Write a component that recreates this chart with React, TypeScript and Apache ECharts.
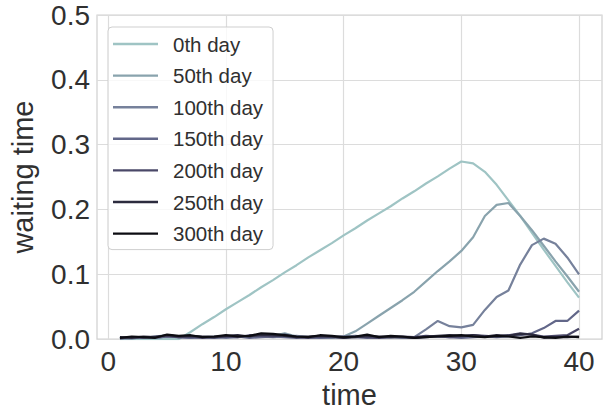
import React, { useEffect, useRef } from "react";
import * as echarts from "echarts";

const times = Array.from({ length: 40 }, (_, i) => i + 1);
const seriesNames = ["0th day", "50th day", "100th day", "150th day", "200th day", "250th day", "300th day"];
const seriesColors = ["#9fc4c4", "#89a3ad", "#76819b", "#626789", "#4a4868", "#2c2b3e", "#0c0c12"];

const day0 = [0, 0, 0, 0, 0, 0, 0.011, 0.023, 0.034, 0.046, 0.057, 0.068, 0.080, 0.091, 0.103, 0.114, 0.126, 0.137, 0.148, 0.160, 0.171, 0.183, 0.194, 0.205, 0.217, 0.228, 0.240, 0.251, 0.263, 0.274, 0.271, 0.258, 0.238, 0.214, 0.190, 0.164, 0.138, 0.113, 0.088, 0.064];
const day50 = [0.002, 0.003, 0.002, 0.004, 0.006, 0.003, 0.004, 0.003, 0.002, 0.004, 0.005, 0.003, 0.006, 0.005, 0.009, 0.004, 0.003, 0.002, 0.002, 0.004, 0.012, 0.024, 0.036, 0.048, 0.060, 0.073, 0.089, 0.105, 0.120, 0.136, 0.157, 0.190, 0.207, 0.210, 0.190, 0.168, 0.144, 0.120, 0.097, 0.073];
const day100 = [0.001, 0.002, 0.003, 0.002, 0.004, 0.003, 0.002, 0.003, 0.004, 0.002, 0.003, 0.005, 0.004, 0.003, 0.004, 0.005, 0.003, 0.002, 0.003, 0.004, 0.005, 0.003, 0.002, 0.003, 0.002, 0.003, 0.015, 0.028, 0.020, 0.018, 0.022, 0.045, 0.065, 0.075, 0.115, 0.145, 0.155, 0.147, 0.126, 0.100];
const day150 = [0.002, 0.001, 0.003, 0.002, 0.004, 0.003, 0.002, 0.003, 0.002, 0.003, 0.004, 0.002, 0.003, 0.004, 0.003, 0.002, 0.003, 0.002, 0.003, 0.004, 0.003, 0.002, 0.003, 0.004, 0.003, 0.002, 0.003, 0.004, 0.003, 0.002, 0.003, 0.004, 0.003, 0.004, 0.006, 0.009, 0.017, 0.028, 0.028, 0.044];
const day200 = [0.001, 0.003, 0.002, 0.004, 0.005, 0.003, 0.004, 0.002, 0.003, 0.004, 0.003, 0.006, 0.005, 0.004, 0.007, 0.003, 0.002, 0.004, 0.003, 0.002, 0.004, 0.003, 0.002, 0.003, 0.004, 0.003, 0.005, 0.004, 0.003, 0.004, 0.006, 0.005, 0.004, 0.006, 0.009, 0.007, 0.004, 0.005, 0.006, 0.016];
const day250 = [0.003, 0.002, 0.004, 0.003, 0.006, 0.004, 0.005, 0.004, 0.003, 0.005, 0.006, 0.004, 0.007, 0.006, 0.005, 0.003, 0.004, 0.005, 0.004, 0.002, 0.003, 0.005, 0.004, 0.003, 0.003, 0.002, 0.004, 0.005, 0.006, 0.005, 0.006, 0.004, 0.006, 0.005, 0.008, 0.007, 0.002, 0.003, 0.003, 0.004];
const day300 = [0.002, 0.004, 0.003, 0.002, 0.007, 0.005, 0.006, 0.003, 0.004, 0.006, 0.004, 0.005, 0.009, 0.008, 0.006, 0.004, 0.003, 0.006, 0.005, 0.003, 0.004, 0.007, 0.003, 0.005, 0.004, 0.002, 0.003, 0.004, 0.005, 0.006, 0.004, 0.003, 0.005, 0.004, 0.002, 0.004, 0.003, 0.002, 0.004, 0.003];
const allSeries = [day0, day50, day100, day150, day200, day250, day300];

const xTicks = [0, 10, 20, 30, 40];
const FONT = "Liberation Sans";

export default function App() {
  const ref = useRef<HTMLDivElement>(null);
  useEffect(() => {
    if (!ref.current) return;
    const chart = echarts.init(ref.current, null, { renderer: "svg" });
    chart.setOption({
      animation: false,
      backgroundColor: "#ffffff",
      grid: {
        left: 97,
        top: 15,
        width: 505,
        height: 328,
        show: true,
        borderColor: "#cfcfcf",
        borderWidth: 1.2,
        backgroundColor: "transparent",
      },
      legend: {
        orient: "vertical",
        left: 108,
        top: 27,
        padding: [6, 10, 5, 5],
        icon: "rect",
        itemWidth: 45,
        itemHeight: 2.4,
        itemGap: 9.6,
        borderColor: "#cfcfcf",
        borderWidth: 1,
        borderRadius: 4,
        backgroundColor: "rgba(255,255,255,0.8)",
        textStyle: {
          fontFamily: FONT,
          fontSize: 20.5,
          lineHeight: 22,
          color: "#303030",
          padding: [0, 0, 0, 10],
        },
        data: seriesNames,
      },
      xAxis: {
        type: "value",
        min: -0.95,
        max: 41.95,
        name: "time",
        nameLocation: "middle",
        nameGap: 40,
        nameTextStyle: { fontFamily: FONT, fontSize: 29, color: "#303030" },
        axisLine: { show: false },
        axisTick: { show: false, customValues: xTicks },
        axisLabel: {
          customValues: xTicks,
          fontFamily: FONT,
          fontSize: 28,
          color: "#303030",
          margin: 8,
        },
        splitLine: { show: true, lineStyle: { color: "#dcdcdc", width: 1.2 } },
      },
      yAxis: {
        type: "value",
        min: 0,
        max: 0.5,
        interval: 0.1,
        name: "waiting time",
        nameLocation: "middle",
        nameGap: 60,
        nameTextStyle: { fontFamily: FONT, fontSize: 29, color: "#303030" },
        axisLine: { show: false },
        axisTick: { show: false },
        axisLabel: {
          fontFamily: FONT,
          fontSize: 28,
          color: "#303030",
          margin: 7,
          formatter: (v: number) => v.toFixed(1),
        },
        splitLine: { show: true, lineStyle: { color: "#dcdcdc", width: 1.2 } },
      },
      series: allSeries.map((vals, i) => ({
        name: seriesNames[i],
        type: "line",
        symbol: "none",
        data: vals.map((v, j) => [times[j], v]),
        lineStyle: { color: seriesColors[i], width: 2.2 },
        itemStyle: { color: seriesColors[i] },
        z: 2 + i,
      })),
    });
    return () => chart.dispose();
  }, []);
  return (
    <div
      ref={ref}
      style={{ position: "fixed", left: 0, top: 0, width: 605, height: 414 }}
    />
  );
}
